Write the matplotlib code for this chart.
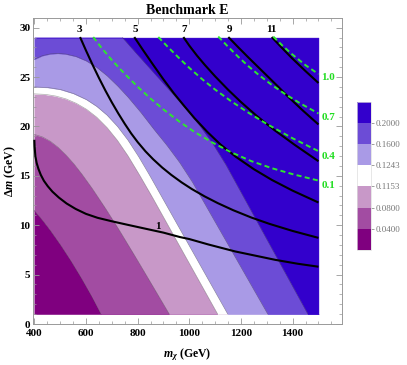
import numpy as np
import matplotlib
matplotlib.use("Agg")
import matplotlib.pyplot as plt
from matplotlib.colors import ListedColormap, BoundaryNorm
from matplotlib.cm import ScalarMappable
from matplotlib.ticker import MultipleLocator

plt.rcParams['font.family'] = ['Liberation Serif', 'DejaVu Serif']
plt.rcParams['mathtext.fontset'] = 'custom'
plt.rcParams['mathtext.rm'] = 'Liberation Serif:bold'
plt.rcParams['mathtext.it'] = 'Liberation Serif:italic:bold'
plt.rcParams['mathtext.bf'] = 'Liberation Serif:bold'

# ---------------- data ----------------
levels = [0.04, 0.08, 0.1153, 0.1243, 0.16, 0.20]
level_labels = ["0.0400", "0.0800", "0.1153", "0.1243", "0.1600", "0.2000"]
band_colors = ['#7F007F', '#A24CA2', '#C898C8', '#FFFFFF', '#A99AE6', '#6C4CD6', '#3300CC']

# level boundaries y(x); values outside 1..29 lie beyond the plotted domain
b004_x = [400, 430, 460, 500, 540, 580, 620, 660, 1500]
b004_y = [11.5, 10.57, 9.55, 8.07, 6.47, 4.75, 2.91, 0.91, -41.0]
b008_x = [400, 430, 460, 490, 520, 550, 580, 620, 670, 720, 780, 850, 925, 1500]
b008_y = [19.2, 18.96, 18.54, 17.94, 17.19, 16.32, 15.33, 13.89, 11.94, 9.89, 7.31, 4.23, 0.9, -25.0]
b1153_x = [400, 440, 480, 520, 560, 600, 640, 680, 720, 760, 800, 850, 1112, 1500]
b1153_y = [23.3, 23.26, 23.1, 22.82, 22.38, 21.78, 20.98, 19.94, 18.66, 17.14, 15.42, 13.17, 0.9, -17.3]
b1243_x = [400, 450, 500, 550, 600, 640, 680, 720, 760, 800, 840, 1151, 1500]
b1243_y = [24.0, 23.95, 23.75, 23.35, 22.75, 22.07, 21.19, 20.07, 18.71, 17.11, 15.35, 0.9, -15.2]
b016_x = [400, 430, 460, 490, 520, 560, 600, 640, 680, 720, 760, 810, 860, 910, 960, 1010, 1306, 1500]
b016_y = [26.8, 27.16, 27.34, 27.4, 27.34, 27.1, 26.66, 26.02, 25.18, 24.18, 23.06, 21.51, 19.81,
          18.21, 16.46, 14.46, 0.9, -7.8]
b020_x = [400, 600, 700, 738, 790, 840, 890, 940, 990, 1040, 1090, 1140, 1461, 1500]
b020_y = [38.0, 33.0, 30.2, 29.1, 27.55, 26.1, 24.65, 23.2, 21.7, 20.1, 18.3, 16.2, 0.9, -0.9]
boundaries = [(b004_x, b004_y), (b008_x, b008_y), (b1153_x, b1153_y),
              (b1243_x, b1243_y), (b016_x, b016_y), (b020_x, b020_y)]

# black contour lines
c1_x = [400, 401, 404, 409, 416, 425, 437, 452, 470, 495, 525, 560, 600, 645, 700, 760, 830,
        900, 964, 1000, 1074, 1177, 1250, 1332, 1420, 1500]
c1_y = [18.65, 18.0, 17.0, 16.3, 15.7, 15.1, 14.5, 13.95, 13.4, 12.8, 12.2, 11.65, 11.15, 10.75,
        10.4, 10.05, 9.65, 9.25, 8.8, 8.6, 8.05, 7.35, 6.95, 6.5, 6.1, 5.8]
c3_x = [577, 600, 625, 650, 675, 700, 725, 750, 775, 800, 830, 860, 895, 930, 970, 1010, 1060,
        1110, 1170, 1240, 1310, 1400, 1500]
c3_y = [29.05, 27.69, 26.27, 24.92, 23.64, 22.44, 21.32, 20.27, 19.29, 18.42, 17.49, 16.68, 15.84,
        15.1, 14.34, 13.66, 12.91, 12.24, 11.52, 10.78, 10.14, 9.42, 8.72]
c5_x = [787, 820, 860, 900, 940, 980, 1020, 1070, 1120, 1180, 1250, 1320, 1400, 1500]
c5_y = [29.05, 27.76, 26.24, 24.76, 23.36, 22.08, 20.84, 19.44, 18.19, 16.93, 15.67, 14.58, 13.5, 12.3]
c7_x = [977, 1000, 1030, 1060, 1100, 1150, 1200, 1260, 1330, 1410, 1500]
c7_y = [29.05, 28.18, 27.16, 26.23, 25.07, 23.72, 22.47, 21.09, 19.62, 18.1, 16.48]
c9_x = [1151, 1190, 1228, 1267, 1306, 1345, 1383, 1440, 1500]
c9_y = [29.05, 28.0, 27.0, 26.0, 25.0, 24.0, 23.0, 21.6, 20.2]
c11_x = [1319, 1357, 1396, 1450, 1500]
c11_y = [29.05, 28.0, 26.95, 25.6, 24.4]
black_lines = [(c1_x, c1_y), (c3_x, c3_y), (c5_x, c5_y), (c7_x, c7_y), (c9_x, c9_y), (c11_x, c11_y)]
black_labels = ["3", "5", "7", "9", "11"]
black_label_x = [574, 791, 978, 1157, 1319]

# green dashed lines
g01_x = [628, 660, 700, 750, 800, 850, 900, 960, 1020, 1090, 1160, 1240, 1320, 1400, 1500]
g01_y = [29.05, 27.96, 26.72, 25.32, 24.02, 22.82, 21.72, 20.52, 19.44, 18.36, 17.41, 16.49, 15.77,
         15.17, 14.52]
g04_x = [880, 920, 960, 1000, 1050, 1100, 1160, 1230, 1300, 1400, 1500]
g04_y = [29.05, 27.97, 26.93, 25.93, 24.78, 23.73, 22.59, 21.37, 20.25, 18.8, 17.5]
g07_x = [1112, 1150, 1190, 1230, 1270, 1320, 1370, 1430, 1500]
g07_y = [29.1, 28.07, 27.03, 26.07, 25.19, 24.19, 23.29, 22.33, 21.31]
g10_x = [1325, 1360, 1396, 1450, 1500]
g10_y = [29.1, 28.2, 27.35, 26.2, 25.3]
green_lines = [(g01_x, g01_y), (g04_x, g04_y), (g07_x, g07_y), (g10_x, g10_y)]
green_labels = ["0.1", "0.4", "0.7", "1.0"]
green_label_y = [14.0, 16.96, 20.9, 25.0]

X_LO, X_HI = 400, 1500
Y_LO, Y_HI = 1, 29

# ---------------- figure ----------------
fig = plt.figure(figsize=(4.07, 3.65), dpi=100)
ax = fig.add_axes([0.0818, 0.1123, 0.7578, 0.8376])
cax = fig.add_axes([0.8764, 0.3151, 0.0344, 0.4063])

xs = np.linspace(X_LO, X_HI, 2201)
G = [np.clip(np.interp(xs, bx, by), Y_LO, Y_HI) for bx, by in boundaries]
lowers = [np.full_like(xs, Y_LO)] + G
uppers = G + [np.full_like(xs, Y_HI)]
for lo, hi, col in zip(lowers, uppers, band_colors):
    ax.fill_between(xs, lo, hi, color=col, lw=0.3, edgecolor=col, zorder=1)
for bx, by in boundaries:
    g = np.interp(xs, bx, by)
    gm = np.ma.masked_where((g < Y_LO) | (g > Y_HI), g)
    ax.plot(xs, gm, color='#404040', lw=0.45, alpha=0.45, zorder=2)

for lx, ly in black_lines:
    ax.plot(lx, ly, color='black', lw=1.5, zorder=4, solid_capstyle='butt',
            solid_joinstyle='round')
for lx, ly in green_lines:
    ax.plot(lx, ly, color='#2EE62E', lw=1.4, dashes=(2.6, 1.7), zorder=5)

for t, x in zip(black_labels, black_label_x):
    ax.text(x, 29.8, t, ha='center', va='center', fontsize=8, fontweight='bold',
            color='black', zorder=6)
ax.text(877, 9.9, "1", ha='center', va='center', fontsize=8, fontweight='bold',
        color='black', zorder=6)
for t, y in zip(green_labels, green_label_y):
    ax.text(1538, y, t, ha='center', va='center', fontsize=8, fontweight='bold',
            color='#22DD22', zorder=6)

ax.set_xlim(396, 1590)
ax.set_ylim(0, 30.95)
ax.xaxis.set_major_locator(MultipleLocator(200))
ax.xaxis.set_minor_locator(MultipleLocator(50))
ax.yaxis.set_major_locator(MultipleLocator(5))
ax.yaxis.set_minor_locator(MultipleLocator(1))
ax.tick_params(which='both', direction='in', top=True, right=True, color='#999999')
ax.tick_params(which='major', length=4, width=0.6, labelsize=8)
ax.tick_params(which='minor', length=2, width=0.5)
ax.tick_params(axis='x', which='major', pad=3.5)
ax.tick_params(axis='y', which='major', pad=2)
for lab in ax.get_xticklabels() + ax.get_yticklabels():
    lab.set_fontweight('bold')
for s in ax.spines.values():
    s.set_color('#999999')
    s.set_linewidth(0.7)

ax.set_title("Benchmark E", fontsize=10, fontweight='bold', pad=3)
ax.set_xlabel(r"$m_\chi$ (GeV)", fontsize=8.5, fontweight='bold', labelpad=6)
ax.set_ylabel(r"$\Delta m$ (GeV)", fontsize=8.5, fontweight='bold', labelpad=1)

# colorbar
bounds = [0.0] + levels + [0.24]
sm = ScalarMappable(norm=BoundaryNorm(bounds, len(band_colors)), cmap=ListedColormap(band_colors))
cb = fig.colorbar(sm, cax=cax, boundaries=bounds, spacing='uniform', ticks=levels)
cb.ax.set_yticklabels(level_labels)
cb.ax.minorticks_off()
cb.ax.tick_params(labelsize=6.5, colors='#777777', length=2.5, width=0.5, pad=1)
cb.outline.set_edgecolor('#dddddd')
cb.outline.set_linewidth(0.5)

fig.savefig("out.png", dpi=100)
